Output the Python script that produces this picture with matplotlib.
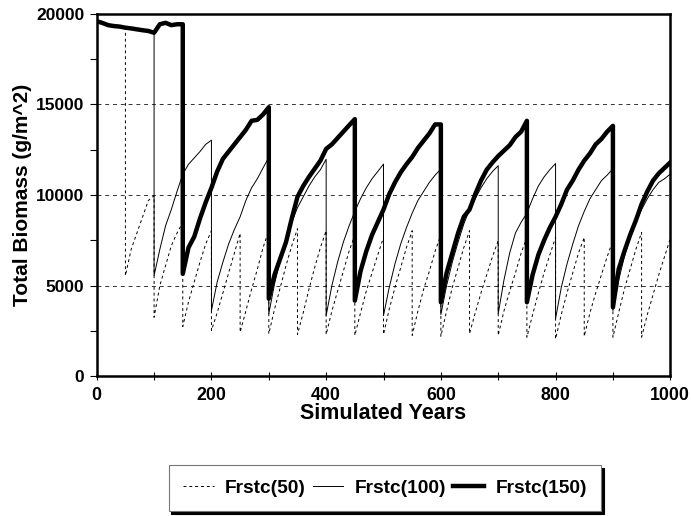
import numpy as np
import matplotlib
matplotlib.use("Agg")
import matplotlib.pyplot as plt
from matplotlib.ticker import MultipleLocator

plt.rcParams['font.family'] = ['Liberation Sans', 'DejaVu Sans']
plt.rcParams['font.weight'] = 'bold'

# Frstc(50): cut every 50 years, values every 10 years within each cycle
f50_starts = list(range(0, 1000, 50))
f50_cycles = [
    [19600, 19450, 19330, 19330, 19300, 19240],
    [5550, 7000, 7900, 8800, 9700, 9960],
    [3250, 5000, 6100, 7200, 7900, 8490],
    [2740, 4100, 5200, 6300, 7300, 8030],
    [2520, 3500, 4600, 5700, 6800, 7890],
    [2430, 3600, 4800, 5900, 7100, 8030],
    [2340, 3700, 4900, 6100, 7200, 8140],
    [2300, 3500, 4800, 6000, 7100, 8030],
    [2300, 3600, 4700, 5800, 6900, 7800],
    [2250, 3500, 4700, 5700, 6700, 7660],
    [2300, 3700, 4900, 6000, 7100, 8030],
    [2250, 3600, 4800, 5800, 6900, 7800],
    [2200, 3600, 4900, 6000, 7100, 8030],
    [2350, 3500, 4600, 5600, 6600, 7480],
    [2250, 3600, 4700, 5700, 6800, 7660],
    [2150, 3400, 4600, 5700, 6700, 7660],
    [2060, 3400, 4600, 5700, 6800, 7660],
    [2200, 3500, 4600, 5600, 6600, 7500],
    [2150, 3500, 4800, 5900, 7000, 7940],
    [2150, 3400, 4500, 5600, 6600, 7600],
]

# Frstc(100): cut every 100 years
f100_starts = list(range(0, 1000, 100))
f100_cycles = [
    [19600, 19450, 19330, 19330, 19300, 19240, 19200, 19150, 19100, 19060, 18960],
    [5550, 7000, 8300, 9200, 10200, 11150, 11700, 12050, 12400, 12800, 13030],
    [3620, 5200, 6300, 7300, 8100, 8800, 9700, 10400, 10900, 11500, 12070],
    [3440, 5100, 6400, 7500, 8500, 9300, 9900, 10500, 11000, 11400, 11980],
    [3350, 5000, 6300, 7400, 8300, 9100, 9800, 10400, 10900, 11300, 11710],
    [3350, 4900, 6200, 7300, 8200, 9000, 9700, 10200, 10700, 11100, 11430],
    [3400, 5000, 6300, 7400, 8400, 9200, 9800, 10400, 10900, 11300, 11620],
    [3450, 5300, 6800, 7900, 8500, 9000, 9800, 10500, 11000, 11400, 11740],
    [3180, 4900, 6200, 7300, 8300, 9100, 9800, 10300, 10800, 11100, 11450],
    [3620, 5300, 6600, 7600, 8500, 9200, 9800, 10300, 10700, 10900, 11160],
]

# Frstc(150): cut every 150 years
f150_starts = list(range(0, 1000, 150))
f150_cycles = [
    [19600, 19500, 19380, 19330, 19300, 19240, 19200, 19150, 19100, 19060, 18960,
     19430, 19510, 19380, 19430, 19430],
    [5650, 7100, 7700, 8700, 9600, 10400, 11300, 12000, 12400, 12800, 13200,
     13600, 14100, 14150, 14450, 14850],
    [4280, 5600, 6500, 7400, 8700, 9900, 10500, 11000, 11450, 11900, 12550,
     12800, 13150, 13500, 13850, 14190],
    [4170, 5800, 6900, 7800, 8500, 9200, 10050, 10700, 11250, 11700, 12100,
     12600, 13000, 13400, 13900, 13900],
    [4080, 5700, 6800, 7900, 8800, 9200, 10050, 10800, 11400, 11800, 12150,
     12450, 12750, 13200, 13500, 14100],
    [4080, 5600, 6700, 7500, 8200, 8800, 9500, 10300, 10800, 11400, 11900,
     12300, 12800, 13100, 13500, 13820],
    [3800, 5900, 6900, 7800, 8600, 9500, 10200, 10800, 11200, 11500, 11800],
]
step = 10


def build(starts, cycles):
    xs, ys = [], []
    for s, vals in zip(starts, cycles):
        for i, v in enumerate(vals):
            xs.append(s + step * i)
            ys.append(v)
    return xs, ys


x50, y50 = build(f50_starts, f50_cycles)
x100, y100 = build(f100_starts, f100_cycles)
x150, y150 = build(f150_starts, f150_cycles)

fig = plt.figure(figsize=(6.91, 5.16), dpi=100)
ax = fig.add_axes([0.140, 0.271, 0.830, 0.702])

for yv in [5000, 10000, 15000]:
    ax.axhline(yv, color='#333333', lw=0.7, ls=(0, (4, 4)), zorder=0)

ax.plot(x50, y50, color='black', lw=0.7, ls=(0, (3, 3)), label='Frstc(50)')
ax.plot(x100, y100, color='black', lw=0.7, label='Frstc(100)')
ax.plot(x150, y150, color='black', lw=3.2, label='Frstc(150)')

ax.set_xlim(0, 1000)
ax.set_ylim(0, 20000)
ax.xaxis.set_major_locator(MultipleLocator(200))
ax.xaxis.set_minor_locator(MultipleLocator(100))
ax.yaxis.set_major_locator(MultipleLocator(5000))
ax.yaxis.set_minor_locator(MultipleLocator(2500))
ax.tick_params(axis='x', which='both', direction='inout', length=6, width=0.8,
               labelsize=12.8, pad=5)
ax.tick_params(axis='y', which='both', direction='out', length=5, width=0.8,
               labelsize=12.5, pad=4)
for sp in ax.spines.values():
    sp.set_linewidth(1.8)

ax.set_xlabel('Simulated Years', fontsize=15.5, fontweight='bold', labelpad=-1)
ax.set_ylabel('Total Biomass (g/m^2)', fontsize=15, fontweight='bold', labelpad=3)

leg = fig.legend(loc='center', bbox_to_anchor=(0.557, 0.054), ncol=3,
                 fontsize=13.8, frameon=True, fancybox=False,
                 shadow={'color': 'black', 'alpha': 1.0},
                 handlelength=1.6, columnspacing=0.35, borderpad=0.75,
                 handletextpad=0.6)
leg.get_frame().set_edgecolor('#777777')
leg.get_frame().set_linewidth(0.8)

fig.savefig('out.png', dpi=100)
